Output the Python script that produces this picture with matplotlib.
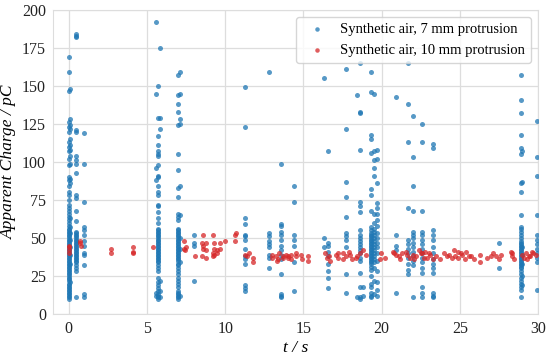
import numpy as np
import matplotlib.pyplot as plt

# blue series: time of each column and the charges read in it
blue_t = [0.0, 0.1, 0.45, 1.0, 5.6, 5.7, 5.85, 7.0, 7.1, 8.0, 11.3, 12.8, 13.6, 14.4,
          16.3, 16.6, 17.7, 18.4, 18.6, 18.8, 19.3, 19.5, 19.7, 20.9, 21.7, 22.0,
          22.6, 23.3, 27.5, 28.9, 29.0, 29.9]
blue_y = [
    [10, 11, 12, 13, 14, 15, 16, 17, 18, 19, 20, 22, 23, 24, 25, 26, 27, 28, 29, 30, 31, 32,
     33, 34, 35, 36, 37, 38, 39, 40, 41, 42, 43, 44, 45, 46, 47, 48, 49, 50, 51, 52, 53, 54,
     55, 56, 58, 60, 62, 64, 66, 68, 70, 72, 75, 78, 80, 84, 88, 90, 98, 102, 107, 110, 113,
     120, 123, 126, 147, 159, 169],
    [21, 33, 39, 44, 49, 53, 57, 63, 86, 89, 99, 104, 108, 111, 115, 122, 124, 128, 148],
    [11, 28, 30, 32, 34, 35, 36, 37, 38, 39, 40, 41, 42, 43, 44, 45, 46, 47, 48, 49, 50,
     51, 52, 53, 54, 61, 68, 76, 78, 93, 99, 101, 104, 120, 121, 182, 183, 184],
    [11, 13, 32, 39, 40, 45, 48, 52, 55, 57, 74, 99, 119],
    [192, 145, 96, 88, 12, 14],
    [10, 11, 12, 13, 15, 17, 19, 21, 24, 28, 30, 32, 34, 35, 36, 37, 38, 39, 40, 41, 42, 43,
     44, 45, 46, 47, 48, 49, 50, 51, 52, 53, 54, 55, 56, 60, 63, 67, 71, 72, 78, 80, 84, 90,
     91, 98, 104, 105, 107, 111, 117, 129, 150],
    [175, 129, 122, 22, 15, 11],
    [10, 11, 12, 13, 14, 15, 18, 20, 22, 24, 26, 28, 30, 32, 33, 35, 36, 37, 38, 39, 40, 41,
     42, 43, 44, 45, 46, 47, 48, 49, 50, 51, 52, 53, 54, 55, 56, 62, 64, 66, 77, 83, 95, 105,
     124, 133, 138, 144, 157],
    [12, 34, 43, 50, 65, 84, 125, 128, 145, 159],
    [22, 45, 47, 52],
    [15, 17, 19, 33, 36, 38, 43, 49, 51, 52, 59, 63, 123, 149],
    [30, 37, 39, 44, 46, 48, 51, 53, 159],
    [11, 12, 13, 26, 36, 39, 42, 45, 49, 52, 54, 58, 59, 99],
    [15, 34, 45, 49, 52, 74, 84],
    [44, 50, 155],
    [17, 24, 28, 33, 38, 41, 45, 47, 107],
    [14, 26, 44, 49, 51, 53, 64, 77, 87, 122, 161],
    [11, 144],
    [10, 11, 18, 27, 35, 37, 40, 42, 44, 46, 48, 50, 52, 55, 67, 71, 74, 108, 132, 133, 165],
    [12, 18],
    [11, 12, 14, 18, 20, 25, 29, 31, 33, 34, 35, 36, 37, 38, 39, 40, 41, 42, 43, 44, 45, 46,
     47, 48, 49, 50, 51, 52, 53, 55, 57, 68, 78, 82, 106, 115, 118, 146, 159],
    [13, 22, 30, 34, 36, 38, 40, 42, 44, 46, 48, 50, 52, 54, 56, 60, 66, 91, 96, 101, 107, 145],
    [12, 16, 21, 28, 35, 40, 44, 47, 50, 53, 58, 62, 66, 70, 73, 86, 102, 108],
    [14, 42, 45, 52, 143],
    [26, 29, 33, 37, 40, 43, 46, 49, 70, 113, 138, 165],
    [11, 32, 35, 38, 41, 44, 47, 50, 52, 54, 68, 84, 103, 130],
    [11, 14, 18, 27, 30, 34, 37, 40, 43, 46, 49, 52, 54, 68, 113, 125],
    [11, 12, 14, 27, 30, 33, 36, 40, 44, 49, 52, 55, 109, 112],
    [30, 47],
    [11, 16, 18, 20, 22, 24, 26, 28, 30, 31, 32, 33, 34, 35, 36, 37, 38, 39, 40, 41, 42, 43,
     44, 45, 46, 47, 48, 50, 52, 54, 56, 57, 65, 80, 86, 105, 109, 118, 132, 141, 157],
    [19, 25, 33, 39, 44, 87, 107],
    [16, 34, 37, 40, 43, 46, 49, 52, 65, 91, 103, 127],
]

# red series: (t, charge) pairs
red_t = [0.0, 0.0, 0.0, 0.05, 0.75, 0.75, 0.8, 2.7, 2.7, 4.1, 4.1, 4.1, 5.4,
         7.35, 7.4, 7.45, 7.5, 8.1, 8.5, 8.5, 8.6, 8.6, 8.6, 8.8, 8.8, 8.8,
         9.2, 9.2, 9.2, 9.3, 9.3, 9.3, 9.5, 9.5, 9.7, 9.7, 10.0, 10.6, 10.6, 10.7,
         11.3, 11.4, 11.5, 11.8, 11.8, 13.0, 13.0, 13.25, 13.4, 13.46, 13.68, 13.9,
         14.0, 14.2, 14.2, 14.5, 14.5, 14.85, 14.9, 15.27, 15.3,
         16.4, 16.66, 16.7, 17.1, 17.2, 17.5, 17.5, 17.7, 17.9, 18.0, 18.36, 18.6, 18.8,
         19.0, 19.96, 20.2, 20.7, 20.9, 21.1, 21.3, 21.55, 21.8, 22.0, 22.2, 22.4,
         22.6, 22.8, 22.9, 23.1, 23.5, 23.7, 24.0, 24.3, 24.6, 24.7, 24.85, 25.06,
         25.16, 25.4, 25.7, 25.9, 26.3, 26.75, 27.1, 27.3, 27.6, 28.25, 28.35,
         28.46, 29.0, 29.2, 29.4, 29.6, 29.85,
         13.3, 13.7, 14.0, 16.5, 17.2, 18.1, 18.4, 19.9, 20.8, 21.2, 21.6, 22.1, 22.5,
         22.7, 23.0, 23.3, 24.2, 24.5, 24.9, 25.3, 25.6, 26.3, 27.0, 27.5, 28.3, 29.1,
         29.3, 29.5, 29.7]
red_y = [40, 42, 44, 45, 48, 47, 45, 43, 40, 44, 41, 40, 44,
         48, 43, 42, 44, 38, 47, 38, 52, 45, 43, 47, 42, 37,
         52, 40, 38, 47, 43, 39, 42, 40, 43, 47, 48, 52, 48, 53,
         39, 38, 40, 37, 34, 39, 37, 38, 36, 40, 37, 39,
         38, 39, 36, 38, 40, 39, 36, 38, 35,
         40, 38, 35, 39, 37, 40, 36, 38, 41, 39, 37, 40, 42,
         39, 40, 37, 41, 39, 38, 40, 41, 37, 39, 38, 42,
         40, 41, 37, 39, 38, 36, 40, 39, 42, 38, 37, 40,
         39, 41, 38, 36, 39, 37, 40, 38, 39, 41, 38,
         36, 39, 40, 38, 41, 39,
         35, 38, 37, 37, 40, 36, 38, 36, 40, 36, 39, 36, 40,
         37, 40, 36, 38, 37, 41, 36, 38, 34, 38, 36, 40, 37,
         36, 38, 40]

bx = np.concatenate([[t] * len(ys) for t, ys in zip(blue_t, blue_y)])
by = np.concatenate(blue_y)

plt.rcParams['font.family'] = ['Liberation Serif', 'DejaVu Serif']

fig = plt.figure(figsize=(5.5, 3.56), dpi=100)
ax = fig.add_axes([0.0964, 0.118, 0.882, 0.854])

ax.scatter(bx, by, s=13, color='#1f77b4', alpha=0.75, linewidths=0,
           label='Synthetic air, 7 mm protrusion', zorder=3)
ax.scatter(red_t, red_y, s=13, color='#d62728', alpha=0.75, linewidths=0,
           label='Synthetic air, 10 mm protrusion', zorder=3)

ax.set_xlim(-1, 30)
ax.set_ylim(0, 200)
ax.set_xticks([0, 5, 10, 15, 20, 25, 30])
ax.set_yticks([0, 25, 50, 75, 100, 125, 150, 175, 200])
ax.grid(True, color='#dddddd', linewidth=0.9, zorder=0)
ax.set_axisbelow(True)
for sp in ax.spines.values():
    sp.set_color('#dddddd')
ax.tick_params(length=0, labelsize=11.5, colors='#222222', pad=5)

ax.set_xlabel('t / s', fontsize=12.5, style='italic', labelpad=2)
ax.set_ylabel('Apparent Charge / pC', fontsize=12.5, style='italic', labelpad=4)

leg = ax.legend(loc='upper right', fontsize=10.5, frameon=True, markerscale=0.9,
                borderaxespad=0.5, handletextpad=0.6)
leg.get_frame().set_edgecolor('#cccccc')

fig.savefig('out.png', dpi=100)
